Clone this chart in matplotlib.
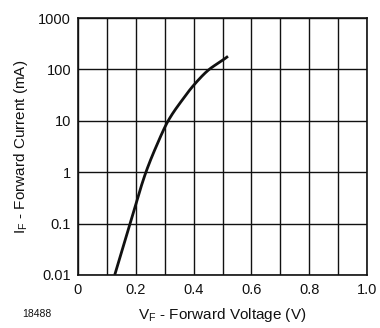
import matplotlib
matplotlib.use("Agg")
import numpy as np
import matplotlib.pyplot as plt
from matplotlib.ticker import FixedLocator, NullFormatter

plt.rcParams['font.family'] = ['Liberation Sans', 'DejaVu Sans']
plt.rcParams['mathtext.fontset'] = 'custom'
plt.rcParams['mathtext.rm'] = 'Liberation Sans'

# Forward voltage (V) vs forward current (mA)
vf = [0.127, 0.180, 0.235, 0.273, 0.312, 0.362, 0.400, 0.454, 0.500, 0.519]
i_f = [0.01, 0.1, 1, 3.4, 10, 26, 49, 100, 150, 180]

x_ticks = [0, 0.2, 0.4, 0.6, 0.8, 1.0]
x_tick_labels = ['0', '0.2', '0.4', '0.6', '0.8', '1.0']
x_minor = [0.1, 0.3, 0.5, 0.7, 0.9]
y_ticks = [0.01, 0.1, 1, 10, 100, 1000]
y_tick_labels = ['0.01', '0.1', '1', '10', '100', '1000']


def pchip(x, y, xs):
    """Monotone piecewise-cubic Hermite interpolation for a smooth trace."""
    x = np.asarray(x, float)
    y = np.asarray(y, float)
    h = np.diff(x)
    d = np.diff(y) / h
    m = np.zeros_like(y)
    for k in range(1, len(x) - 1):
        if d[k - 1] * d[k] > 0:
            w1 = 2 * h[k] + h[k - 1]
            w2 = h[k] + 2 * h[k - 1]
            m[k] = (w1 + w2) / (w1 / d[k - 1] + w2 / d[k])
    m[0] = d[0]
    m[-1] = d[-1]
    idx = np.clip(np.searchsorted(x, xs) - 1, 0, len(h) - 1)
    t = (xs - x[idx]) / h[idx]
    h00 = 2 * t**3 - 3 * t**2 + 1
    h10 = t**3 - 2 * t**2 + t
    h01 = -2 * t**3 + 3 * t**2
    h11 = t**3 - t**2
    return (h00 * y[idx] + h10 * h[idx] * m[idx]
            + h01 * y[idx + 1] + h11 * h[idx] * m[idx + 1])


vs = np.linspace(vf[0], vf[-1], 300)
curve = 10 ** pchip(vf, np.log10(i_f), vs)

ink = '#111111'
fig = plt.figure(figsize=(3.8, 3.28), dpi=100)
ax = fig.add_axes([78 / 380, 53 / 328, 289 / 380, 257 / 328])

ax.plot(vs, curve, color=ink, linewidth=2.0, solid_capstyle='butt')

ax.set_yscale('log')
ax.set_xlim(0, 1.0)
ax.set_ylim(0.01, 1000)

ax.xaxis.set_major_locator(FixedLocator(x_ticks))
ax.xaxis.set_minor_locator(FixedLocator(x_minor))
ax.set_xticklabels(x_tick_labels)
ax.yaxis.set_major_locator(FixedLocator(y_ticks))
ax.yaxis.set_minor_locator(FixedLocator([]))
ax.yaxis.set_minor_formatter(NullFormatter())
ax.set_yticklabels(y_tick_labels)

ax.grid(True, which='both', color=ink, linewidth=1.0)
ax.set_axisbelow(True)
for s in ax.spines.values():
    s.set_color(ink)
    s.set_linewidth(1.2)

ax.tick_params(which='both', length=0, labelsize=10.5, colors=ink)
ax.tick_params(axis='y', pad=5)
ax.tick_params(axis='x', pad=6)

ax.set_xlabel(r'V$_\mathregular{F}$ - Forward Voltage (V)', fontsize=11,
              color=ink, labelpad=6)
ax.set_ylabel(r'I$_\mathregular{F}$ - Forward Current (mA)', fontsize=11,
              color=ink, labelpad=6)

fig.text(22 / 380, 1 - 314 / 328, '18488', fontsize=7.5, color=ink,
         va='center', ha='left')

fig.savefig('out.png', dpi=100)
